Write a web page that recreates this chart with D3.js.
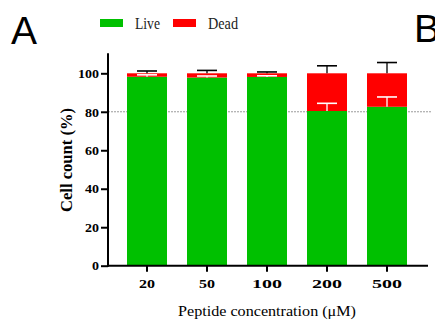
<!DOCTYPE html>
<html>
<head>
<meta charset="utf-8">
<script src="https://cdn.jsdelivr.net/npm/d3@7"></script>
<style>
  html, body { margin: 0; padding: 0; background: #fff; }
  svg { display: block; }
</style>
</head>
<body>
<svg id="chart" width="435" height="323"></svg>
<script>
// Stacked viability bars: live + dead fractions per peptide concentration
const concentrations = ["20", "50", "100", "200", "500"];
const liveValues = [98.2, 97.8, 98.1, 80.4, 82.6];
const liveErrors = [1.0, 0.8, 0.6, 4.0, 5.1];
const deadValues = liveValues.map(v => +(100 - v).toFixed(1));
const deadErrors = [1.2, 1.5, 0.7, 3.9, 5.6];
const yTicks = [0, 20, 40, 60, 80, 100];
const referenceLevel = 80;
const seriesNames = ["Live", "Dead"];
const seriesColors = ["#00c000", "#ff0000"];

const svg = d3.select("#chart");
const serif = "'Liberation Serif', 'Times New Roman', serif";

const x = d3.scaleBand()
  .domain(concentrations)
  .range([117, 417])
  .paddingInner(1 / 3)
  .paddingOuter(1 / 6);

const y = d3.scaleLinear()
  .domain([0, 100])
  .range([265.7, 73.3]);

const axisLeftX = 108;
const axisRightX = 428;

// Dotted reference line at 80 %
svg.append("line")
  .attr("x1", axisLeftX).attr("x2", 431)
  .attr("y1", y(referenceLevel)).attr("y2", y(referenceLevel))
  .attr("stroke", "#9a9a9a")
  .attr("stroke-width", 1)
  .attr("stroke-dasharray", "2,1");

// Stacked bars
const stacked = concentrations.map((c, i) => ({
  c, live: liveValues[i], dead: deadValues[i],
  liveErr: liveErrors[i], deadErr: deadErrors[i]
}));

const bars = svg.append("g");
bars.selectAll("rect.live")
  .data(stacked).join("rect")
  .attr("class", "live")
  .attr("x", d => x(d.c))
  .attr("width", x.bandwidth())
  .attr("y", d => y(d.live))
  .attr("height", d => y(0) - y(d.live))
  .attr("fill", seriesColors[0]);

bars.selectAll("rect.dead")
  .data(stacked).join("rect")
  .attr("class", "dead")
  .attr("x", d => x(d.c))
  .attr("width", x.bandwidth())
  .attr("y", d => y(d.live + d.dead))
  .attr("height", d => y(d.live) - y(d.live + d.dead))
  .attr("fill", seriesColors[1]);

// Error bars: white on the live segment, black above the dead segment
function errorBars(cls, base, err, color) {
  const g = svg.append("g").attr("class", cls);
  const capHalf = x.bandwidth() / 4;
  g.selectAll("line.v").data(stacked).join("line")
    .attr("class", "v")
    .attr("x1", d => x(d.c) + x.bandwidth() / 2)
    .attr("x2", d => x(d.c) + x.bandwidth() / 2)
    .attr("y1", d => y(base(d)))
    .attr("y2", d => y(base(d) + err(d)))
    .attr("stroke", color).attr("stroke-width", 1.3);
  g.selectAll("line.cap").data(stacked).join("line")
    .attr("class", "cap")
    .attr("x1", d => x(d.c) + x.bandwidth() / 2 - capHalf)
    .attr("x2", d => x(d.c) + x.bandwidth() / 2 + capHalf)
    .attr("y1", d => y(base(d) + err(d)))
    .attr("y2", d => y(base(d) + err(d)))
    .attr("stroke", color).attr("stroke-width", 1.6);
}
errorBars("live-err", d => d.live, d => d.liveErr, "#ffffff");
errorBars("dead-err", d => d.live + d.dead, d => d.deadErr, "#000000");

// Y axis
const yAxis = svg.append("g")
  .attr("transform", `translate(${axisLeftX},0)`)
  .call(d3.axisLeft(y).tickValues(yTicks).tickSize(7).tickPadding(2));
yAxis.select(".domain").remove();
yAxis.append("line")
  .attr("x1", 0).attr("x2", 0)
  .attr("y1", y(0) + 1).attr("y2", y(100) - 20)
  .attr("stroke", "#000").attr("stroke-width", 2);
yAxis.selectAll(".tick line").attr("stroke", "#000").attr("stroke-width", 2);
yAxis.selectAll(".tick text")
  .attr("fill", "#000")
  .attr("font-family", serif)
  .attr("font-weight", "bold")
  .attr("font-size", 12.5)
  .attr("dy", "0.34em")
  .attr("textLength", d => String(d).length * 7)
  .attr("lengthAdjust", "spacingAndGlyphs");

// X axis
const xAxis = svg.append("g")
  .attr("transform", `translate(0,${y(0)})`)
  .call(d3.axisBottom(x).tickSize(6).tickPadding(4));
xAxis.select(".domain").remove();
xAxis.append("line")
  .attr("x1", axisLeftX - 1).attr("x2", axisRightX)
  .attr("y1", 0).attr("y2", 0)
  .attr("stroke", "#000").attr("stroke-width", 2);
xAxis.selectAll(".tick line").attr("stroke", "#000").attr("stroke-width", 2);
xAxis.selectAll(".tick text")
  .attr("fill", "#000")
  .attr("font-family", serif)
  .attr("font-weight", "bold")
  .attr("font-size", 12.5)
  .attr("y", 22)
  .attr("dy", 0)
  .attr("textLength", d => d.length === 2 ? 16 : 30)
  .attr("lengthAdjust", "spacingAndGlyphs");

// Axis titles
svg.append("text")
  .attr("x", 267).attr("y", 315.5)
  .attr("text-anchor", "middle")
  .attr("font-family", serif)
  .attr("font-size", 14)
  .attr("textLength", 178)
  .attr("lengthAdjust", "spacingAndGlyphs")
  .text("Peptide concentration (μM)");

svg.append("text")
  .attr("transform", `translate(71.5,160) rotate(-90)`)
  .attr("text-anchor", "middle")
  .attr("font-family", serif)
  .attr("font-weight", "bold")
  .attr("font-size", 16)
  .attr("textLength", 104)
  .attr("lengthAdjust", "spacingAndGlyphs")
  .text("Cell count (%)");

// Legend
const legendX = [100, 173];
const legendTextLen = [25, 30];
const legend = svg.append("g");
seriesNames.forEach((name, i) => {
  legend.append("rect")
    .attr("x", legendX[i]).attr("y", 19)
    .attr("width", 23).attr("height", 8)
    .attr("fill", seriesColors[i]);
  legend.append("text")
    .attr("x", legendX[i] + 35).attr("y", 29)
    .attr("font-family", serif)
    .attr("font-size", 16)
    .attr("fill", "#222")
    .attr("textLength", legendTextLen[i])
    .attr("lengthAdjust", "spacingAndGlyphs")
    .text(name);
});

// Panel letters
svg.append("text")
  .attr("x", 11).attr("y", 44)
  .attr("font-family", "'Liberation Sans', Arial, sans-serif")
  .attr("font-size", 39)
  .text("A");
svg.append("text")
  .attr("x", 414).attr("y", 42)
  .attr("font-family", "'Liberation Sans', Arial, sans-serif")
  .attr("font-size", 39)
  .text("B");
</script>
</body>
</html>
